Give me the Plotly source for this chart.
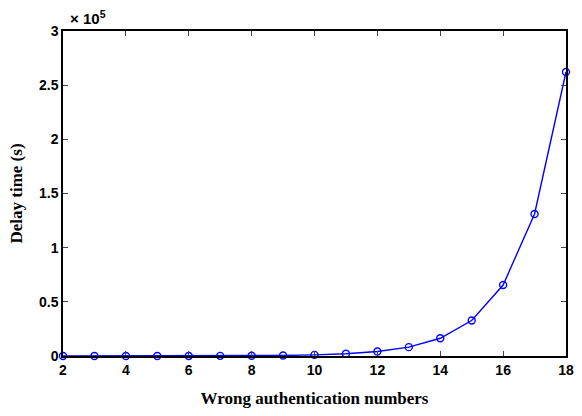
import plotly.graph_objects as go

wrong_numbers = [2, 3, 4, 5, 6, 7, 8, 9, 10, 11, 12, 13, 14, 15, 16, 17, 18]
delay_time = [4, 8, 16, 32, 64, 128, 256, 512, 1024, 2048, 4096, 8192,
              16384, 32768, 65536, 131072, 262144]
y_tickvals = [0, 50000, 100000, 150000, 200000, 250000, 300000]
y_ticklabels = ["0", "0.5", "1", "1.5", "2", "2.5", "3"]
x_tickvals = [2, 4, 6, 8, 10, 12, 14, 16, 18]

fig = go.Figure()
fig.add_trace(go.Scatter(
    x=wrong_numbers, y=delay_time, mode="lines+markers",
    line=dict(color="#0000ff", width=1.4),
    marker=dict(symbol="circle-open", size=7, color="#0000ff", line=dict(width=1.4)),
    cliponaxis=False, showlegend=False,
))

tickfont = dict(family="Liberation Sans, Arial", size=14, color="black")
fig.update_layout(
    width=582, height=416,
    margin=dict(l=63, r=8, t=31, b=60),
    paper_bgcolor="white", plot_bgcolor="white",
    xaxis=dict(range=[2, 18], tickvals=x_tickvals,
               ticktext=["<b>%d</b>" % v for v in x_tickvals],
               ticks="inside", ticklen=5,
               showline=True, linecolor="black", linewidth=1.5, mirror="ticks",
               showgrid=False, zeroline=False, tickfont=tickfont,
               title=dict(text="<b>Wrong authentication numbers</b>",
                          font=dict(family="Liberation Serif, Times New Roman", size=17, color="black"),
                          standoff=16)),
    yaxis=dict(range=[0, 300000], tickvals=y_tickvals,
               ticktext=["<b>%s</b>" % t for t in y_ticklabels],
               ticks="inside", ticklen=5,
               showline=True, linecolor="black", linewidth=1.5, mirror="ticks",
               showgrid=False, zeroline=False, tickfont=tickfont,
               title=dict(text="<b>Delay time (s)</b>",
                          font=dict(family="Liberation Serif, Times New Roman", size=17, color="black"),
                          standoff=12)),
    annotations=[dict(text="<b>× 10<sup>5</sup></b>", xref="paper", yref="paper",
                      x=0.01, y=1.0, xanchor="left", yanchor="bottom", yshift=2,
                      showarrow=False,
                      font=dict(family="Liberation Sans, Arial", size=15, color="black"))],
)
fig.write_html("out.html", config={"displayModeBar": False},
               post_script="document.body.style.margin='0';")
